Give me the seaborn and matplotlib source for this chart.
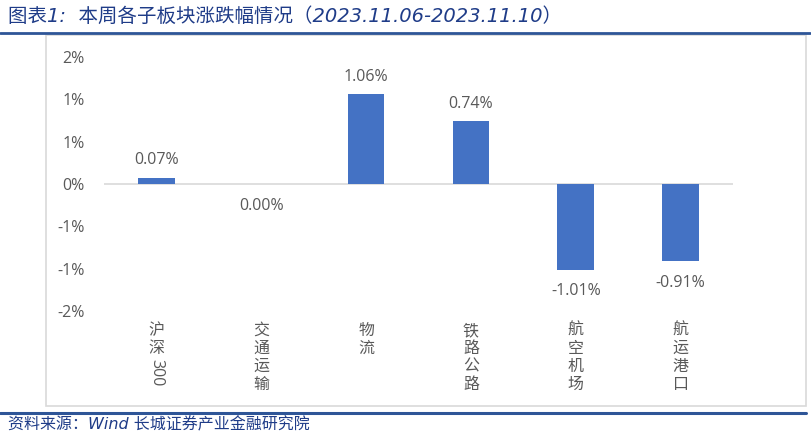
import matplotlib
matplotlib.use("Agg")
import matplotlib.pyplot as plt
import seaborn as sns
import pandas as pd
from matplotlib.patches import Rectangle
from matplotlib.lines import Line2D
import matplotlib.transforms as mtrans

categories = ["沪深300", "交通运输", "物流", "铁路公路", "航空机场", "航运港口"]
values = [0.07, 0.00, 1.06, 0.74, -1.01, -0.91]
value_labels = ["0.07%", "0.00%", "1.06%", "0.74%", "-1.01%", "-0.91%"]
ytick_values = [1.5, 1.0, 0.5, 0.0, -0.5, -1.0, -1.5]
ytick_labels = ["2%", "1%", "1%", "0%", "-1%", "-1%", "-2%"]
title = "图表1:  本周各子板块涨跌幅情况（2023.11.06-2023.11.10）"
source = "资料来源：Wind 长城证券产业金融研究院"

sns.set_theme(style="white")
plt.rcParams['font.family'] = ['DejaVu Sans', 'Noto Sans CJK SC']

W, H = 812, 438
fig = plt.figure(figsize=(W / 100, H / 100), dpi=100)

def fx(px):
    return px / W

def fy(py):
    return 1 - py / H

ax = fig.add_axes([fx(104), fy(311), fx(733) - fx(104), fy(57) - fy(311)])
df = pd.DataFrame({"cat": categories, "val": values})
sns.barplot(data=df, x="cat", y="val", color="#4472C4", width=0.35, ax=ax,
            saturation=1, edgecolor="none")
ax.set_xlim(-0.5, len(categories) - 0.5)
ax.set_ylim(-1.5, 1.5)
ax.set_xlabel("")
ax.set_ylabel("")
for s in ax.spines.values():
    s.set_visible(False)
ax.axhline(0, color="#d9d9d9", lw=1.2, zorder=0)
ax.set_yticks(ytick_values)
ax.set_yticklabels(ytick_labels, fontsize=11.5, color="#595959",
                   family=['Open Sans', 'DejaVu Sans'])
ax.tick_params(axis="y", length=0, pad=14)
ax.set_xticks([])

gray = "#595959"
for i, (v, lab) in enumerate(zip(values, value_labels)):
    if v > 0:
        ax.annotate(lab, (i, v), xytext=(0, 7), textcoords="offset points",
                    ha="center", va="bottom", fontsize=11.5, color=gray,
                    family=['Open Sans', 'DejaVu Sans'])
    else:
        ax.annotate(lab, (i, v), xytext=(0, -10), textcoords="offset points",
                    ha="center", va="top", fontsize=11.5, color=gray,
                    family=['Open Sans', 'DejaVu Sans'])

# vertical category labels
trans = mtrans.blended_transform_factory(ax.transData, fig.transFigure)
pitch = 18.0
for i, lab in enumerate(categories):
    y = 322.0
    j = 0
    while j < len(lab):
        ch = lab[j]
        if ch.isdigit():
            k = j
            while k < len(lab) and lab[k].isdigit():
                k += 1
            token = lab[j:k]
            ax.text(i, fy(y + 1), token, transform=trans, rotation=-90,
                    ha="center", va="top", fontsize=11.5, color=gray,
                    family=['Open Sans', 'DejaVu Sans'])
            y += 9.5 * len(token)
            j = k
        else:
            ax.text(i, fy(y), ch, transform=trans, ha="center", va="top",
                    fontsize=11.5, color=gray, family=['Noto Sans CJK SC'])
            y += pitch
            j += 1

# chart border
fig.patches.append(Rectangle((fx(46), fy(406)), fx(806) - fx(46), fy(35) - fy(406),
                             transform=fig.transFigure, fill=False,
                             edgecolor="#d9d9d9", lw=1.2))
# title and rules
blue_text = "#1F3C88"
blue_line = "#2E5597"
fig.text(fx(8), fy(16), title, ha="left", va="center", fontsize=14,
         color=blue_text, style="italic",
         family=['DejaVu Sans', 'Noto Sans CJK SC'])
fig.lines.append(Line2D([0, fx(810)], [fy(33), fy(33)], transform=fig.transFigure,
                        color=blue_line, lw=2))
fig.lines.append(Line2D([0, fx(806)], [fy(413), fy(413)], transform=fig.transFigure,
                        color=blue_line, lw=2.2))
fig.text(fx(8), fy(425), source, ha="left", va="center", fontsize=11.5,
         color=blue_text, style="italic",
         family=['DejaVu Sans', 'Noto Sans CJK SC'])

fig.savefig("out.png", dpi=100)
